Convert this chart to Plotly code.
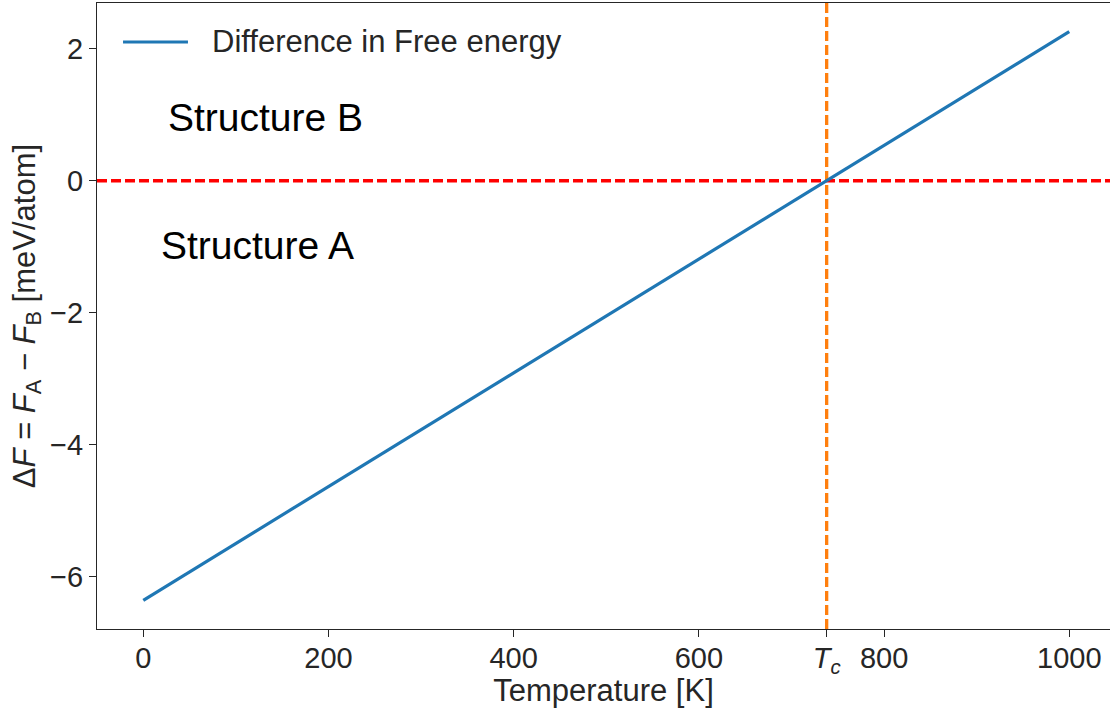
import plotly.graph_objects as go

# Free-energy difference between the two structures vs temperature
temperature = [0, 1000]
delta_f = [-6.36, 2.26]

# Transition temperature (where the difference crosses zero)
t_c = 738

x_tickvals = [0, 200, 400, 600, t_c, 800, 1000]
x_ticktext = ["0", "200", "400", "600", "<i>T<sub>c</sub></i>", "800", "1000"]
y_tickvals = [-6, -4, -2, 0, 2]

series_name = "Difference in Free energy"

FONT = "Liberation Sans, Arial, sans-serif"
INK = "#262626"
BLUE = "#1f77b4"

fig = go.Figure()

fig.add_trace(go.Scatter(
    x=temperature, y=delta_f, mode="lines",
    name=series_name, showlegend=False,
    line=dict(color=BLUE, width=3.2),
))

# Zero line and transition temperature
fig.add_hline(y=0, line=dict(color="#ff0000", width=3.3, dash="10px,4px"), layer="below")
fig.add_vline(x=t_c, line=dict(color="#ff7f0e", width=3.3, dash="10px,4px"), layer="below")

fig.add_annotation(x=24, y=0.96, xref="x", yref="y", text="Structure B",
                   showarrow=False, xanchor="left", yanchor="middle",
                   font=dict(family=FONT, size=39, color="black"))
fig.add_annotation(x=17, y=-0.98, xref="x", yref="y", text="Structure A",
                   showarrow=False, xanchor="left", yanchor="middle",
                   font=dict(family=FONT, size=39, color="black"))

# Legend entry (long line sample, frameless) in the upper-left corner
fig.add_shape(type="line", xref="paper", yref="paper",
              x0=0.0257, x1=0.0898, y0=0.9377, y1=0.9377,
              line=dict(color=BLUE, width=3.2))
fig.add_annotation(x=0.1115, y=0.9377, xref="paper", yref="paper", text=series_name,
                   showarrow=False, xanchor="left", yanchor="middle",
                   font=dict(family=FONT, size=31, color=INK))

axis_common = dict(
    showline=True, linecolor=INK, linewidth=1.25,
    showgrid=False, zeroline=False, automargin=False,
    ticks="outside", ticklen=7, tickwidth=1.25, tickcolor=INK,
    tickfont=dict(family=FONT, size=29, color=INK),
)

fig.update_xaxes(
    range=[-50, 1044], tickvals=x_tickvals, ticktext=x_ticktext,
    ticklabelstandoff=-4, mirror=True,
    title=dict(text="Temperature [K]", font=dict(family=FONT, size=31, color=INK), standoff=1),
    **axis_common,
)
fig.update_yaxes(
    range=[-6.795, 2.694], tickvals=y_tickvals, mirror=False,
    title=dict(text="Δ<i>F</i> = <i>F</i><sub>A</sub> − <i>F</i><sub>B</sub> [meV/atom]",
               font=dict(family=FONT, size=31, color=INK), standoff=5),
    **axis_common,
)

fig.update_layout(
    width=1110, height=708,
    margin=dict(l=97, r=0, t=3, b=79),
    plot_bgcolor="white", paper_bgcolor="white",
)

fig.write_html("out.html")
